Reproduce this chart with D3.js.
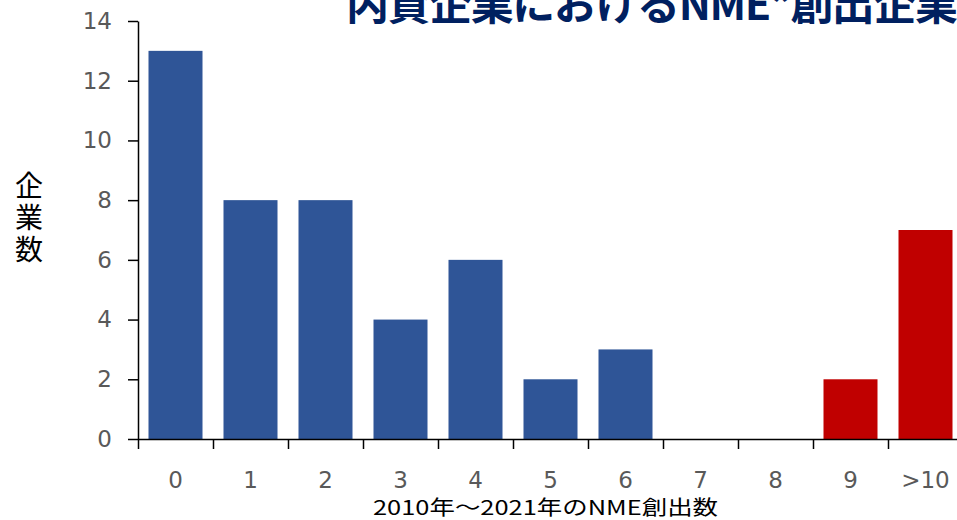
<!DOCTYPE html>
<html>
<head>
<meta charset="utf-8">
<script src="https://cdn.jsdelivr.net/npm/d3@7"></script>
<style>
  html, body { margin: 0; padding: 0; background: #fff; overflow: hidden; }
  svg { display: block; }
</style>
</head>
<body>
<svg id="chart" width="957" height="520"></svg>
<script>
const categories = ["0", "1", "2", "3", "4", "5", "6", "7", "8", "9", ">10"];
const companyCounts = [13, 8, 8, 4, 6, 2, 3, 0, 0, 2, 7];
const barColors = ["#2F5597", "#2F5597", "#2F5597", "#2F5597", "#2F5597", "#2F5597", "#2F5597", "#2F5597", "#2F5597", "#C00000", "#C00000"];
const yTicks = [0, 2, 4, 6, 8, 10, 12, 14];
const titleText = "内資企業におけるNME*創出企業";
const xTitle = "2010年～2021年のNME創出数";
const yTitle = "企業数";

(function () {
const svg = d3.select("#chart");
const plotLeft = 138, plotRight = 963, plotTop = 21, plotBottom = 439;

const x = d3.scaleBand().domain(categories).range([plotLeft, plotRight]).paddingInner(0.28).paddingOuter(0.14);
const xEdges = d3.scaleLinear().domain([0, categories.length]).range([plotLeft, plotRight]);
const y = d3.scaleLinear().domain([0, 14]).range([plotBottom, plotTop]);

// bars
svg.append("g").selectAll("rect")
  .data(categories.map((c, i) => ({ c, v: companyCounts[i], col: barColors[i] })))
  .join("rect")
  .attr("x", d => x(d.c))
  .attr("y", d => y(d.v))
  .attr("width", x.bandwidth())
  .attr("height", d => y(0) - y(d.v))
  .attr("fill", d => d.col);

// y axis
const yAxis = svg.append("g").attr("transform", `translate(${plotLeft},0)`)
  .call(d3.axisLeft(y).tickValues(yTicks).tickSize(10).tickPadding(16).tickSizeOuter(0));
yAxis.select(".domain").attr("stroke", "#000").attr("stroke-width", 1.5);
yAxis.selectAll(".tick line").attr("stroke", "#000").attr("stroke-width", 1.5);
yAxis.selectAll(".tick text").attr("fill", "#595959").attr("font-family", "DejaVu Sans, Verdana, sans-serif").attr("font-size", 23);

// x axis (tick marks at category boundaries)
const xAxis = svg.append("g").attr("transform", `translate(0,${plotBottom})`)
  .call(d3.axisBottom(xEdges).tickValues(d3.range(0, categories.length + 1)).tickSize(10).tickFormat("").tickSizeOuter(0));
xAxis.select(".domain").attr("stroke", "#000").attr("stroke-width", 1.5);
xAxis.selectAll(".tick line").attr("stroke", "#000").attr("stroke-width", 1.5);

// x labels
svg.append("g").selectAll("text")
  .data(categories)
  .join("text")
  .attr("x", d => x(d) + x.bandwidth() / 2)
  .attr("y", 488)
  .attr("text-anchor", "middle")
  .attr("fill", "#595959")
  .attr("font-family", "DejaVu Sans, Verdana, sans-serif")
  .attr("font-size", 23)
  .text(d => d);

// x title
svg.append("text")
  .attr("x", 545.5)
  .attr("y", 515)
  .attr("text-anchor", "middle")
  .attr("fill", "#000")
  .attr("font-family", "'Noto Sans CJK JP', sans-serif")
  .attr("font-size", 20)
  .attr("textLength", 345)
  .attr("lengthAdjust", "spacingAndGlyphs")
  .text(xTitle);

// y title (vertical, upright characters)
svg.append("text")
  .attr("x", 29)
  .attr("y", 171)
  .attr("fill", "#000")
  .attr("font-family", "'Noto Sans CJK JP', sans-serif")
  .attr("font-size", 28)
  .style("writing-mode", "vertical-rl")
  .style("text-orientation", "upright")
  .style("letter-spacing", "4px")
  .text(yTitle);

// title (cropped at top in reference)
svg.append("text")
  .attr("x", 346)
  .attr("y", 20)
  .attr("fill", "#002060")
  .attr("font-family", "'Noto Sans CJK JP', sans-serif")
  .attr("font-weight", "bold")
  .attr("font-size", 43)
  .attr("textLength", 612)
  .attr("lengthAdjust", "spacing")
  .text(titleText);
})();
</script>
</body>
</html>
